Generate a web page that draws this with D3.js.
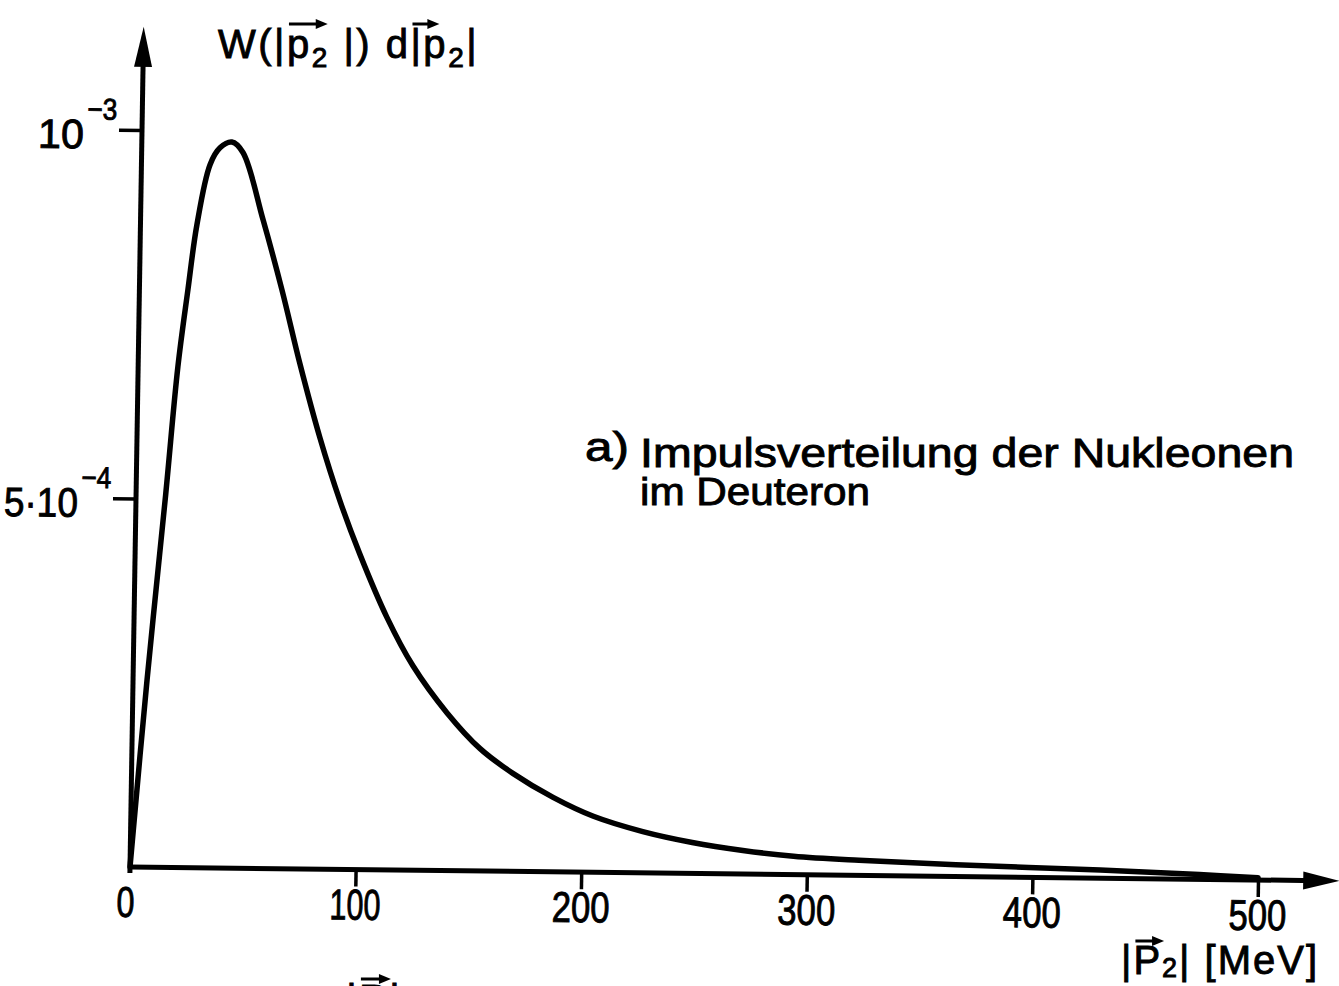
<!DOCTYPE html>
<html>
<head>
<meta charset="utf-8">
<script src="https://cdn.jsdelivr.net/npm/d3@7"></script>
<style>
  html, body { margin: 0; padding: 0; background: #fff; }
  svg { display: block; }
  text { font-family: "Liberation Sans", Arial, sans-serif; fill: #000; stroke: #000; stroke-width: 0.9px; }
</style>
</head>
<body>
<svg id="chart" width="1339" height="986"></svg>
<script>
// Momentum distribution of the nucleons in the deuteron
// |p2| in MeV
const momentum = [0, 6.2, 13.1, 17.6, 21.5, 25, 30.4, 34.7, 39.9, 44.9,
  54.3, 63.2, 71.7, 81.1, 90.4, 99.6, 112, 124, 139.4, 154.3, 169, 187, 205, 227,
  249, 271.5, 294, 323, 366, 430, 474, 500];
// W(|p2|) d|p2| in units of 10^-3
const probability = [0, 0.254, 0.505, 0.679, 0.784, 0.872, 0.954, 0.977, 0.985, 0.971,
  0.88, 0.785, 0.685, 0.585, 0.500, 0.428, 0.343, 0.277, 0.214, 0.166, 0.133, 0.101, 0.076, 0.056,
  0.042, 0.032, 0.025, 0.0205, 0.016, 0.011, 0.0065, 0.003];

const xTicks = [100, 200, 300, 400, 500];
const xTickLabels = ["0", "100", "200", "300", "400", "500"];
const xTickLabelValues = [0, 100, 200, 300, 400, 500];
const yTicks = [5e-4, 1e-3];
const yTickMantissa = ["5·10", "10"];
const yTickExponent = ["−4", "−3"];

const yAxisTitle = ["W(|p", "2", " |) d|p", "2", "|"];
const xAxisTitle = ["|P", "2", "| [MeV]"];
const noteLetter = "a)";
const noteLines = ["Impulsverteilung der Nukleonen", "im Deuteron"];

const svg = d3.select("#chart");
svg.append("rect").attr("width", 1339).attr("height", 986).attr("fill", "#fff");

// plotting frame: origin of the axes, slightly sheared like the printed page
const plot = svg.append("g")
  .attr("transform", "matrix(1, 0.0115, -0.0163, 1, 130, 867)");

const x = d3.scaleLinear().domain([0, 500]).range([0, 1128]);
const y = d3.scaleLinear().domain([0, 1e-3]).range([0, -737]);

const ink = "#000";

// axes lines with arrow heads
const xEnd = 536, yTop = 1.14e-3;
plot.append("line")
  .attr("x1", 0).attr("y1", 0).attr("x2", x(xEnd) - 20).attr("y2", 0)
  .attr("stroke", ink).attr("stroke-width", 5);
plot.append("line")
  .attr("x1", 0).attr("y1", 6).attr("x2", 0).attr("y2", y(yTop) + 20)
  .attr("stroke", ink).attr("stroke-width", 5);
plot.append("path")
  .attr("d", `M${x(xEnd)},0 L${x(xEnd) - 36},-9 L${x(xEnd) - 36},9 Z`)
  .attr("fill", ink);
plot.append("path")
  .attr("d", `M0,${y(yTop)} L-9,${y(yTop) + 40} L9,${y(yTop) + 40} Z`)
  .attr("fill", ink);

// ticks
const xAxis = plot.append("g")
  .call(d3.axisBottom(x).tickValues(xTicks).tickSize(17).tickFormat(""));
xAxis.select(".domain").remove();
xAxis.selectAll(".tick line").attr("stroke", ink).attr("stroke-width", 3.5);

const yAxis = plot.append("g")
  .call(d3.axisLeft(y).tickValues(yTicks).tickSize(23).tickFormat(""));
yAxis.select(".domain").remove();
yAxis.selectAll(".tick line").attr("stroke", ink).attr("stroke-width", 3.5);

// tick labels (condensed numerals)
const digitWidth = c => (c === "1" ? 13 : 20);
plot.selectAll("text.xlab")
  .data(xTickLabelValues)
  .join("text")
  .attr("class", "xlab")
  .attr("x", d => x(d) - (d === 0 ? 4 : 0))
  .attr("y", 50)
  .attr("text-anchor", "middle")
  .attr("font-size", 43)
  .attr("textLength", (d, i) => d3.sum(xTickLabels[i].split(""), digitWidth) - 2)
  .attr("lengthAdjust", "spacingAndGlyphs")
  .text((d, i) => xTickLabels[i]);

yTicks.forEach((t, i) => {
  const mant = yTickMantissa[i];
  plot.append("text")
    .attr("x", -58).attr("y", y(t) + 19)
    .attr("text-anchor", "end")
    .attr("font-size", 41)
    .attr("textLength", mant.length === 2 ? 46 : 74)
    .attr("lengthAdjust", "spacingAndGlyphs")
    .text(mant);
  plot.append("text")
    .attr("x", -55).attr("y", y(t) - 10)
    .attr("font-size", 30)
    .attr("textLength", 30)
    .attr("lengthAdjust", "spacingAndGlyphs")
    .text(yTickExponent[i]);
});

// distribution curve
const pts = momentum.map((p, i) => [p, probability[i] * 1e-3]);
plot.append("path")
  .datum(pts)
  .attr("fill", "none")
  .attr("stroke", ink)
  .attr("stroke-width", 5.5)
  .attr("stroke-linejoin", "round")
  .attr("stroke-linecap", "round")
  .attr("d", d3.line().x(d => x(d[0])).y(d => y(d[1])).curve(d3.curveCatmullRom.alpha(0.5)));

// vector arrow over a run of characters
function vectorArrow(textSel, fromChar, toChar, lift, extra) {
  const node = textSel.node();
  const s = node.getStartPositionOfChar(fromChar);
  const e = node.getEndPositionOfChar(toChar);
  const x1 = s.x + 2, x2 = e.x + extra, yy = s.y - lift;
  const parent = d3.select(node.parentNode);
  parent.append("line")
    .attr("x1", x1).attr("y1", yy).attr("x2", x2 - 6).attr("y2", yy)
    .attr("stroke", ink).attr("stroke-width", 3);
  parent.append("path")
    .attr("d", `M${x2},${yy} L${x2 - 12},${yy - 5} L${x2 - 12},${yy + 5} Z`)
    .attr("fill", ink);
}

// y axis title: W(|p2|) d|p2|
const yt = svg.append("text")
  .attr("x", 218).attr("y", 58)
  .attr("font-size", 40)
  .attr("letter-spacing", 2.5);
yt.append("tspan").text(yAxisTitle[0]);
yt.append("tspan").attr("dy", 9).attr("font-size", 28).text(yAxisTitle[1]);
yt.append("tspan").attr("dy", -9).text(yAxisTitle[2]);
yt.append("tspan").attr("dy", 9).attr("font-size", 28).text(yAxisTitle[3]);
yt.append("tspan").attr("dy", -9).text(yAxisTitle[4]);
vectorArrow(yt, 3, 3, 34, 16);
vectorArrow(yt, 10, 10, 34, 16);

// x axis title: |P2| [MeV]
const xt = svg.append("text")
  .attr("x", 1121).attr("y", 974)
  .attr("font-size", 40)
  .attr("letter-spacing", 2);
xt.append("tspan").text(xAxisTitle[0]);
xt.append("tspan").attr("dy", 3).attr("font-size", 27).text(xAxisTitle[1]);
xt.append("tspan").attr("dy", -3).text(xAxisTitle[2]);
vectorArrow(xt, 1, 1, 33, 2);

// annotation
svg.append("text")
  .attr("x", 585).attr("y", 461)
  .attr("font-size", 40)
  .attr("textLength", 44)
  .attr("lengthAdjust", "spacingAndGlyphs")
  .text(noteLetter);
svg.append("text")
  .attr("x", 640).attr("y", 467)
  .attr("font-size", 41)
  .attr("textLength", 654)
  .attr("lengthAdjust", "spacingAndGlyphs")
  .text(noteLines[0]);
svg.append("text")
  .attr("x", 640).attr("y", 505)
  .attr("font-size", 38)
  .attr("textLength", 230)
  .attr("lengthAdjust", "spacingAndGlyphs")
  .text(noteLines[1]);

// top of the caption below, cut off at the page edge
const cut = svg.append("text")
  .attr("x", 346).attr("y", 1014)
  .attr("font-size", 42)
  .attr("letter-spacing", 2)
  .text("|P|");
vectorArrow(cut, 1, 1, 35, 2);
</script>
</body>
</html>
